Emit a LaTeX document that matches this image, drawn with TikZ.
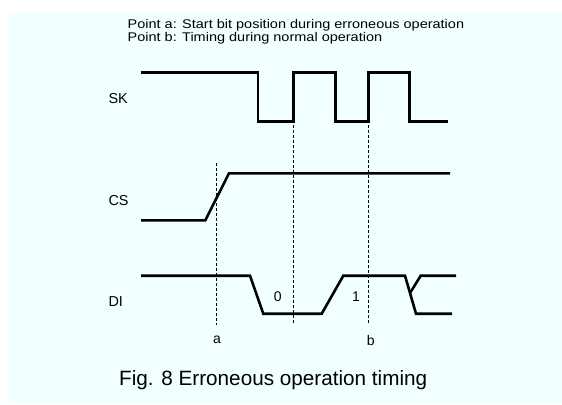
\documentclass[tikz,border=0pt]{standalone}
\usepackage{fontspec}
\setmainfont{Liberation Sans}
\newfontfamily\hdrfont[FakeStretch=1.15]{Liberation Sans}
\definecolor{bgcyan}{RGB}{240,255,255}
\begin{document}
\begin{tikzpicture}[x=1bp,y=-1bp,
  wave/.style={line width=2.6bp, line join=miter, line cap=butt},
  guide/.style={line width=0.8bp, dash pattern=on 3bp off 2bp},
  sig/.style={inner sep=0pt, anchor=west, font=\fontsize{14.4bp}{16bp}\selectfont},
  lbl/.style={inner sep=0pt, font=\fontsize{14bp}{16bp}\selectfont},
  hdr/.style={inner sep=0pt, anchor=base west, font=\hdrfont\fontsize{12.6bp}{14bp}\selectfont}]
\useasboundingbox (0,0) rectangle (562,404);
\fill[bgcyan] (8,13) rectangle (562,404);
% header
\node[hdr] (h1) at (127.5,28.3) {Point a: Start bit position during erroneous operation};
\node[hdr] (h2) at (127.5,41.7) {Point b: Timing during normal operation};
% signal names
\node[sig] (sk) at (108.3,99) {SK};
\node[sig] (cs) at (108.3,201) {CS};
\node[sig] (di) at (108.3,301.7) {DI};
% guides
\draw[guide] (216,163) -- (216,325);
\draw[guide] (293,125) -- (293,325);
\draw[guide] (368,125) -- (368,325);
% SK
\draw[wave] (141,72.3) -- (258,72.3) -- (258,121.7) -- (293.3,121.7) -- (293.3,72.3)
  -- (335.7,72.3) -- (335.7,121.7) -- (368.3,121.7) -- (368.3,72.3) -- (409.3,72.3)
  -- (409.3,121.7) -- (447.7,121.7);
% CS
\draw[wave] (141,220.3) -- (205.3,220.3) -- (229,173.3) -- (450,173.3);
% DI
\draw[wave] (141,275.7) -- (250,275.7) -- (263.3,313.7) -- (321.7,313.7) -- (343.3,275.7)
  -- (405,275.7) -- (416,313.7) -- (452,313.7);
\draw[wave] (410,293) -- (420.7,275.7) -- (456,275.7);
% labels
\node[lbl] (m0) at (277.7,296.7) {0};
\node[lbl] (m1) at (356,296.7) {1};
\node[lbl] (ma) at (217,340) {a};
\node[lbl] (mb) at (370.7,340) {b};
% caption
\node[inner sep=0pt, anchor=base west, font=\fontsize{20.7bp}{24bp}\selectfont] (cap) at (119,385) {Fig. 8 Erroneous operation timing};
\end{tikzpicture}
\end{document}
